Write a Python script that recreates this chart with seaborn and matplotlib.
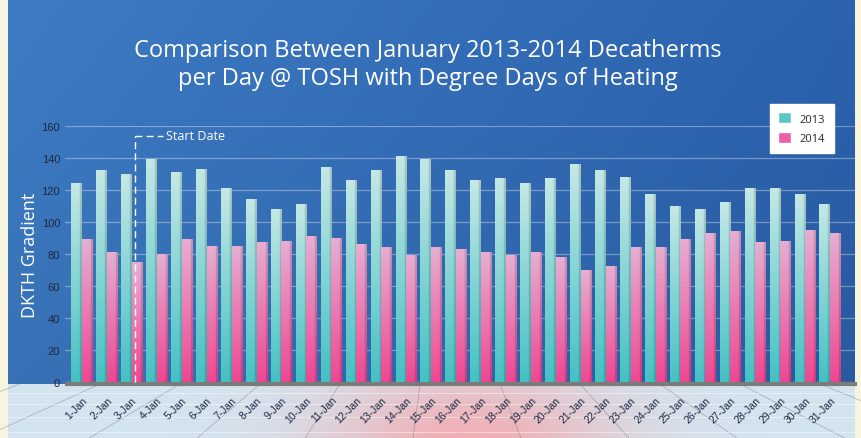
import numpy as np
import pandas as pd
import matplotlib
matplotlib.use("Agg")
import matplotlib.pyplot as plt
import seaborn as sns
from matplotlib.patches import Patch
from matplotlib.colors import to_rgb

# data
days = [f"{d}-Jan" for d in range(1, 32)]
dkth_2013 = [124, 132, 130, 139, 131, 133, 121, 114, 108, 111, 134, 126, 132, 141, 139, 132,
             126, 127, 124, 127, 136, 132, 128, 117, 110, 108, 112, 121, 121, 117, 111]
dkth_2014 = [89, 81, 75, 80, 89, 85, 85, 87, 88, 91, 90, 86, 84, 79, 84, 83,
             81, 79, 81, 78, 70, 72, 84, 84, 89, 93, 94, 87, 88, 95, 93]
years = ["2013", "2014"]
y_ticks = [0, 20, 40, 60, 80, 100, 120, 140, 160]

W, H = 861, 439
TEAL = "#5cc5c6"
PINK = "#ec5ea6"
grads = [("#c4e8e5", "#45c1c4"), ("#e6aed2", "#ee4893")]
TICK_COL = "#1d2942"

df = pd.DataFrame({
    "day": days * 2,
    "year": [years[0]] * len(days) + [years[1]] * len(days),
    "value": dkth_2013 + dkth_2014,
})

sns.set_style("white")
plt.rcParams["font.family"] = ["Open Sans", "DejaVu Sans"]

fig = plt.figure(figsize=(W / 100, H / 100), dpi=100)
fig.patch.set_facecolor("#f7f5df")

# background panel + floor
bg = fig.add_axes([0, 0, 1, 1], zorder=-1)
bg.axis("off")

xs = np.linspace(0, 1, 300)
ys = np.linspace(0, 1, 120)
gx, gy = np.meshgrid(xs, ys)
left_c = np.array(to_rgb("#3d7cc5"))
right_c = np.array(to_rgb("#2c62ae"))
panel = left_c * (1 - gx[..., None]) + right_c * gx[..., None]
panel = panel * (1 - 0.08 * gy[..., None])
bg.imshow(panel, extent=(8, 855, 385, 0), aspect="auto", interpolation="bilinear")

fx = np.linspace(8, 855, 400)
fy = np.linspace(385, H, 60)
fgx, fgy = np.meshgrid(fx, fy)
floor_c = np.array(to_rgb("#d3e5f0"))
pink_c = np.array(to_rgb("#f2aeb3"))
wpink = np.exp(-((fgx - 470) / 150) ** 2) * (0.55 + 0.45 * (fgy - 385) / 54)
floor = floor_c * (1 - wpink[..., None]) + pink_c * wpink[..., None]
bg.imshow(floor, extent=(8, 855, H, 385), aspect="auto", interpolation="bilinear")

vx, vy = 440, 230
for x0 in np.arange(-300, 1200, 80):
    dx, dy = x0 - vx, 385 - vy
    x1 = x0 + dx * (H - 385) / dy
    bg.plot([x0, x1], [385, H], color="#5d6470", lw=0.5, alpha=0.45)
for yl in [394, 405, 418, 433]:
    bg.plot([8, 855], [yl, yl], color="white", lw=0.7, alpha=0.45)
bg.plot([65, 857], [385, 385], color="#7b7c7a", lw=3, solid_capstyle="butt")
bg.set_xlim(0, W)
bg.set_ylim(H, 0)

# main chart
ax = fig.add_axes([65 / W, (H - 383) / H, 790 / W, 256 / H])
ax.set_facecolor("none")
sns.barplot(data=df, x="day", y="value", hue="year", palette=[TEAL, PINK],
            width=0.85, saturation=1, legend=False, ax=ax)


def make_grad(top, bot):
    t = np.linspace(0, 1, 64)[:, None, None]
    col = np.array(to_rgb(top)) * (1 - t) + np.array(to_rgb(bot)) * t
    img = np.repeat(col, 10, axis=1)
    img[:, 8:, :] *= 0.85
    return img


for cont, (top, bot) in zip(ax.containers, grads):
    img = make_grad(top, bot)
    for bar in cont:
        x0, y0 = bar.get_x(), bar.get_y()
        w, h = bar.get_width(), bar.get_height()
        ax.imshow(img, extent=(x0, x0 + w, y0, y0 + h), aspect="auto",
                  interpolation="bilinear", zorder=3)
        bar.set_visible(False)

ax.set_xlim(-0.68, 31.0)
ax.set_ylim(0, 160)
ax.set_yticks(y_ticks)
ax.yaxis.grid(True, color="white", alpha=0.35, lw=0.9)
ax.set_axisbelow(True)
for s in ax.spines.values():
    s.set_visible(False)
ax.tick_params(axis="both", length=0, colors=TICK_COL, labelsize=8)
ax.tick_params(axis="x", pad=9)
ax.set_xticks(range(len(days)))
ax.set_xticklabels(days, rotation=45, ha="right", rotation_mode="anchor", fontsize=7.5)
for lab in ax.get_xticklabels() + ax.get_yticklabels():
    lab.set_family(["Liberation Sans", "DejaVu Sans"])
ax.set_xlabel("")
ax.set_ylabel("")

# start date marker
ax.plot([2.13, 2.13], [0, 154], color="white", lw=1, ls=(0, (5, 3)), zorder=4, clip_on=False)
ax.plot([2.13, 3.25], [154, 154], color="white", lw=1, ls=(0, (5, 3)), zorder=4, clip_on=False)
ax.text(3.38, 154, "Start Date", color="white", fontsize=9, va="center", ha="left")

fig.text(30 / W, 1 - 255 / H, "DKTH Gradient", rotation=90, color="white",
         fontsize=13, ha="center", va="center")
fig.text(428 / W, 1 - 65 / H, "Comparison Between January 2013-2014 Decatherms\nper Day @ TOSH with Degree Days of Heating",
         color="white", fontsize=17, ha="center", va="center", linespacing=1.25)

handles = [Patch(facecolor=TEAL, label=years[0]), Patch(facecolor=PINK, label=years[1])]
leg = fig.legend(handles=handles, loc="upper left", bbox_to_anchor=(764 / W, 1 - 99 / H),
                 frameon=True, fancybox=False, facecolor="white", edgecolor="white",
                 fontsize=8, handlelength=1.1, handleheight=1.1, borderpad=0.8,
                 labelspacing=0.7, framealpha=1)

fig.savefig("out.png", dpi=100)
